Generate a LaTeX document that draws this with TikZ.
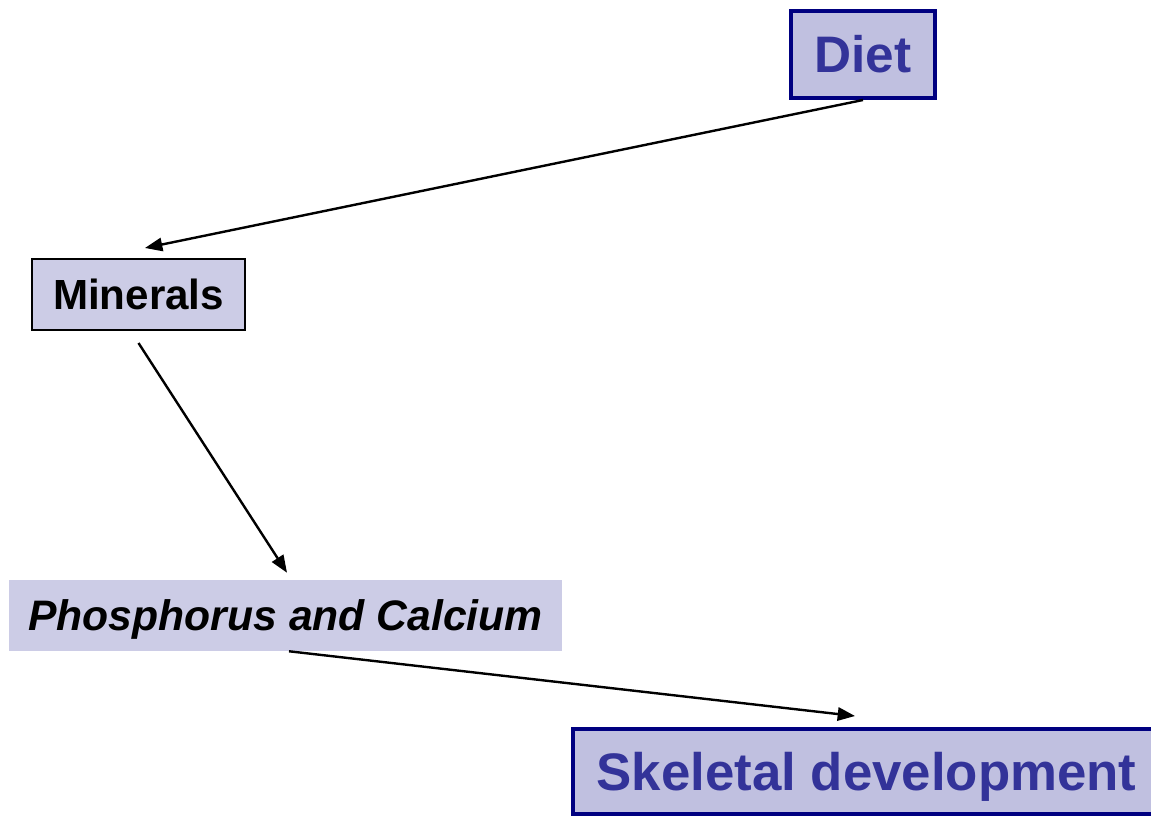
\documentclass[tikz,border=0pt]{standalone}
\usepackage{fontspec}
\setmainfont{Liberation Sans}
\usepackage{tikz}
\usetikzlibrary{arrows.meta}
\definecolor{navy}{RGB}{0,0,128}
\definecolor{lilac}{RGB}{192,192,224}
\definecolor{lilaclight}{RGB}{204,204,230}
\definecolor{inkblue}{RGB}{51,51,153}
\begin{document}
\begin{tikzpicture}[
  x=0.75pt, y=-0.75pt,
  box/.style={inner sep=0pt, text depth=0pt, align=center},
  major/.style={box, draw=navy, line width=3pt, fill=lilac, text=inkblue},
  minor/.style={box, draw=black, line width=1.5pt, fill=lilaclight},
  plain/.style={box, fill=lilaclight},
  flow/.style={-{Triangle[length=13pt, width=10pt]}, line width=1.8pt}
]
\useasboundingbox (0,0) rectangle (1151,816);
% --- boxes ---
\node[major, minimum width=108pt, minimum height=65.25pt, text height=27.6pt,
  font=\bfseries\fontsize{38.5}{44}\selectfont] (diet) at (863,54.5) {Diet};
\node[minor, minimum width=159.75pt, minimum height=53.25pt, text height=22.6pt,
  font=\bfseries\fontsize{31.6}{38}\selectfont] (minerals) at (138.5,294.5) {Minerals};
\node[plain, minimum width=414.75pt, minimum height=53.25pt, text height=22.9pt,
  font=\bfseries\itshape\fontsize{32}{38}\selectfont] (phoscal) at (285.5,615.5) {Phosphorus and Calcium};
\node[major, minimum width=440.25pt, minimum height=63.75pt, text height=28.4pt,
  font=\bfseries\fontsize{39.6}{46}\selectfont] (skeletal) at (866.5,771.5) {Skeletal development};
% --- arrows ---
\draw[flow] (diet.south) -- ([shift={(6.5,-10)}]minerals.north);
\draw[flow] ([shift={(0,12)}]minerals.south) -- ([shift={(1.5,-7)}]phoscal.north);
\draw[flow] ([shift={(3.5,0)}]phoscal.south) -- ([shift={(-11.5,-11)}]skeletal.north);
\end{tikzpicture}
\end{document}
